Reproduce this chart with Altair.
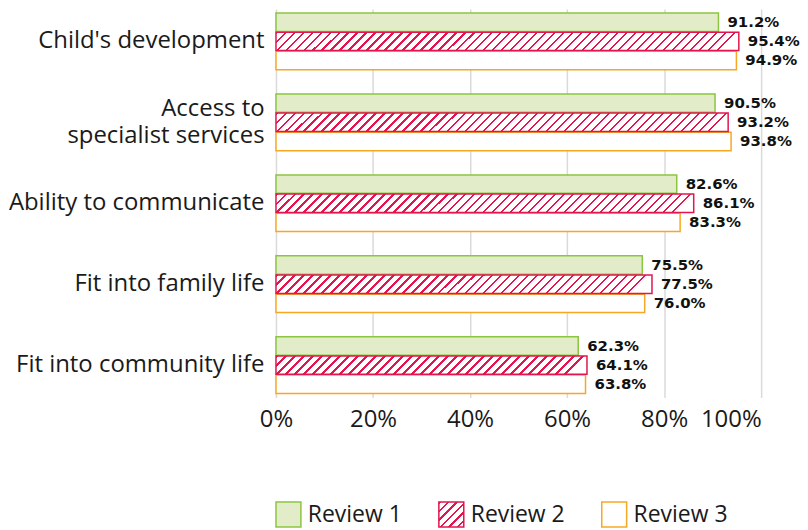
import altair as alt
import pandas as pd

categories = ["Child's development", "Access to specialist services", "Ability to communicate",
              "Fit into family life", "Fit into community life"]
reviews = ["Review 1", "Review 2", "Review 3"]
review1 = [91.2, 90.5, 82.6, 75.5, 62.3]
review2 = [95.4, 93.2, 86.1, 77.5, 64.1]
review3 = [94.9, 93.8, 83.3, 76.0, 63.8]
x_ticks = [0, 20, 40, 60, 80, 100]

rows = []
for i, c in enumerate(categories):
    for r, vals in zip(reviews, [review1, review2, review3]):
        rows.append({"category": c, "review": r, "value": vals[i]})
df = pd.DataFrame(rows)

PLOT_W = 487
PLOT_H = 390
BAR_H = 18.5
GREEN_FILL = "#e2ecc9"
GREEN = "#8cc540"
RED = "#e3154f"
ORANGE = "#f7a823"
TEXT = "#1a1a1a"
FONT = "Open Sans"


def hatch(width_px, height_px, period=9.0, thick=2.3):
    """diagonal '/' stripes as a hard-stop linear gradient in bbox units"""
    eps = height_px / width_px
    p = period / width_px
    d = thick / width_px
    stops = []
    k = 0
    while k * p <= 1:
        a, b, e = k * p, min(k * p + d, 1), min((k + 1) * p, 1)
        stops += [(a, RED), (b, RED), (b, "white"), (e, "white")]
        k += 1
    return alt.LinearGradient(
        gradient="linear", x1=0, y1=0, x2=1, y2=eps,
        stops=[alt.GradientStop(offset=o, color=c) for o, c in stops])


X = alt.X("value:Q", scale=alt.Scale(domain=[0, 100], nice=False),
          axis=alt.Axis(values=x_ticks, labelExpr="datum.value + '%'", title=None,
                        ticks=False, domain=False, grid=True, gridColor="#dadada",
                        gridWidth=1.5, labelFontSize=24, labelFont=FONT, labelColor=TEXT,
                        labelPadding=10,
                        labelAlign=alt.ExprRef(expr="datum.value == 100 ? 'right' : 'center'")))
Y = alt.Y("category:N", sort=categories,
          scale=alt.Scale(domain=categories, paddingInner=0.3, paddingOuter=0.05),
          axis=alt.Axis(title=None, ticks=False, domain=False, labelFontSize=24,
                        labelFont=FONT, labelColor=TEXT, labelPadding=12, labelLimit=0,
                        labelLineHeight=27, minExtent=264, maxExtent=264,
                        labelOffset=alt.ExprRef(expr="datum.label == 'Access to specialist services' ? -13.5 : 0"),
                        labelExpr="datum.label == 'Access to specialist services' ? ['Access to', 'specialist services'] : datum.label"))
YOFF = alt.YOffset("review:N", sort=reviews,
                   scale=alt.Scale(domain=reviews, paddingInner=0.04, paddingOuter=0))

base = alt.Chart(df).encode(y=Y, yOffset=YOFF, x=X)

bars13 = base.transform_filter("datum.review != 'Review 2'").mark_bar(strokeWidth=1.5).encode(
    fill=alt.Fill("review:N", scale=alt.Scale(domain=reviews, range=[GREEN_FILL, "white", "white"]),
                  legend=None),
    stroke=alt.Stroke("review:N", scale=alt.Scale(domain=reviews, range=[GREEN, RED, ORANGE]),
                      legend=None),
)

r2_layers = []
for c, v in zip(categories, review2):
    r2_layers.append(
        base.transform_filter(alt.FieldEqualPredicate(field="review", equal="Review 2"))
        .transform_filter(alt.FieldEqualPredicate(field="category", equal=c))
        .mark_bar(fill=hatch(v / 100 * PLOT_W, BAR_H), stroke=RED, strokeWidth=1.5)
    )

labels = base.transform_calculate(
    label="format(datum.value, '.1f') + '%'"
).mark_text(align="left", baseline="middle", dx=9, font="DejaVu Sans", fontWeight="bold",
            fontSize=15, color="#111111").encode(text="label:N")

main = alt.layer(bars13, *r2_layers, labels).properties(width=PLOT_W, height=PLOT_H)

# legend
leg_df = pd.DataFrame({"review": reviews})
LX = alt.X("review:N", sort=reviews,
           scale=alt.Scale(type="point", domain=reviews, padding=0.0765), axis=None)
leg_base = alt.Chart(leg_df).encode(x=LX)
leg_sq = leg_base.transform_filter("datum.review != 'Review 2'").mark_square(
    size=625, strokeWidth=1.5, opacity=1).encode(
    fill=alt.Fill("review:N", scale=alt.Scale(domain=reviews, range=[GREEN_FILL, "white", "white"]),
                  legend=None),
    stroke=alt.Stroke("review:N", scale=alt.Scale(domain=reviews, range=[GREEN, RED, ORANGE]),
                      legend=None),
)
sq_grad = alt.LinearGradient(
    gradient="linear", x1=0, y1=0, x2=1, y2=1,
    stops=[alt.GradientStop(offset=o, color=c) for o, c in
           sum([[(min(k * 0.17, 1), RED), (min(k * 0.17 + 0.045, 1), RED),
                 (min(k * 0.17 + 0.045, 1), "white"), (min((k + 1) * 0.17, 1), "white")]
                for k in range(6)], [])])
leg_sq2 = leg_base.transform_filter("datum.review == 'Review 2'").mark_square(
    size=625, strokeWidth=1.5, opacity=1, fill=sq_grad, stroke=RED)
leg_txt = leg_base.mark_text(align="left", baseline="middle", dx=19.5, fontSize=23,
                             font=FONT, color=TEXT).encode(text="review:N")
legend = alt.layer(leg_sq, leg_sq2, leg_txt).properties(width=352, height=25)

chart = alt.vconcat(main, legend, spacing=68).properties(
    padding={"left": 0, "top": 0, "right": 0, "bottom": 0}
).configure_view(stroke=None)

chart.save("out.html", embed_options={"renderer": "svg", "actions": False})
